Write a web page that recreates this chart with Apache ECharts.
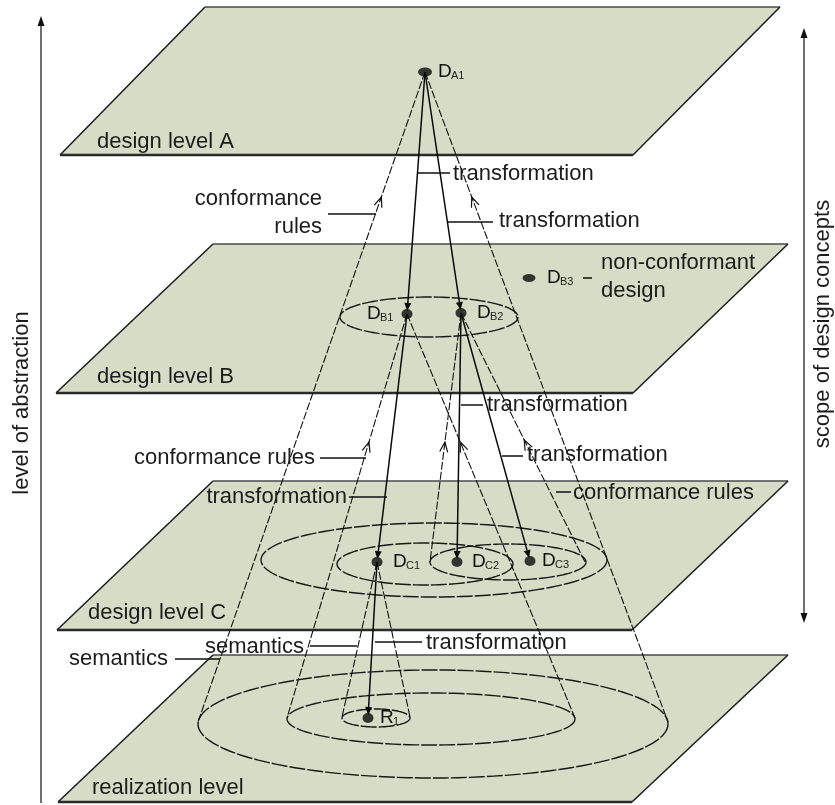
<!DOCTYPE html>
<html><head><meta charset="utf-8">
<script src="https://cdn.jsdelivr.net/npm/echarts@6/dist/echarts.min.js"></script>
<style>html,body{margin:0;padding:0;background:#fff}#c{width:835px;height:805px}</style>
</head><body><div id="c"></div>
<script>
// ---- planes (levels) ----
const planeNames = ['design level A', 'design level B', 'design level C', 'realization level'];
const planeTopY = [7, 244, 481, 655];
const planeBottomY = [155, 393, 630, 802];
const planeTopLeftX = [205, 213, 213, 213];
const planeTopRightX = [780, 788, 788, 788];
const planeBottomLeftX = [60, 56, 57, 58];
const planeBottomRightX = [633, 633, 632, 632];
const planeLabelX = [97, 97, 88, 92];
const planeLabelY = [142, 377, 613, 788];

// ---- designs (points) ----
const designMain = ['D', 'D', 'D', 'D', 'D', 'D', 'D', 'R'];
const designSub = ['A1', 'B1', 'B2', 'B3', 'C1', 'C2', 'C3', '1'];
const designX = [425, 407, 461, 529, 377, 457, 530, 368];
const designY = [72, 314, 313, 278, 562, 562, 561, 718];
const designLabelX = [438, 367, 477, 547, 393, 472, 542, 380];

// ---- scopes (ellipses) ----
const scopeCx = [429, 434, 425, 508, 433, 431, 376];
const scopeCy = [317, 560, 564, 562, 724, 719, 718];
const scopeRx = [89, 173, 88, 78, 235, 144, 34];
const scopeRy = [20, 37, 21, 18, 54, 26, 9];

// ---- cone edges (conformance) ----
const coneFrom = [0, 0, 1, 1, 2, 2, 4, 4];
const coneToX = [198, 668, 287, 575, 430, 585, 342, 410];
const coneToY = [722, 722, 718, 718, 562, 562, 717, 717];

// ---- transformations ----
const transFrom = [0, 0, 1, 2, 2, 4];
const transTo = [1, 2, 4, 5, 6, 7];

// ---- conformance arrowheads (cone index, height) ----
const confCone = [0, 1, 2, 3, 4, 5];
const confY = [197, 197, 442, 442, 442, 440];

// ---- annotations ----
const annText = ['transformation', 'transformation', 'conformance\nrules', 'non-conformant\ndesign',
  'transformation', 'conformance rules', 'transformation', 'conformance rules',
  'transformation', 'semantics', 'semantics', 'transformation'];
const annLeaderX1 = [418, 447, 328, 583, 461, 320, 502, 556, 349, 310, 175, 375];
const annLeaderX2 = [450, 493, 376, 592, 483, 366, 523, 571, 387, 357, 220, 422];
const annLeaderY = [173, 222, 214, 278, 405, 458, 456, 492, 497, 646, 659, 642];
const annTextX = [453, 499, 322, 601, 487, 315, 527, 573, 347, 304, 168, 426];
const annTextY = [174, 221, 213, 277, 405, 458, 455, 493, 497, 647, 659, 643];
const annAlign = ['left', 'left', 'right', 'left', 'left', 'right', 'left', 'left', 'right', 'right', 'right', 'left'];

// ---- side scales ----
const scaleText = ['level of abstraction', 'scope of design concepts'];
const scaleX = [41, 804];
const scaleTopY = [16, 28];
const scaleBottomY = [803, 623];
const scaleDouble = [false, true];
const scaleTextX = [22, 823];
const scaleTextY = [403, 324];

const FONT = '"Liberation Sans", Arial, Helvetica, sans-serif';
const INK = '#1c1c1c';

const chart = echarts.init(document.getElementById('c'), null, {renderer: 'canvas'});

function planeItem(params, api) {
  const i = params.dataIndex;
  const tl = api.coord([planeTopLeftX[i], planeTopY[i]]);
  const tr = api.coord([planeTopRightX[i], planeTopY[i]]);
  const br = api.coord([planeBottomRightX[i], planeBottomY[i]]);
  const bl = api.coord([planeBottomLeftX[i], planeBottomY[i]]);
  const lp = api.coord([planeLabelX[i], planeLabelY[i]]);
  return {type: 'group', children: [
    {type: 'polygon', shape: {points: [tl, tr, br, bl]}, style: {fill: '#d6dcc5'}},
    {type: 'line', shape: {x1: tl[0], y1: tl[1], x2: tr[0], y2: tr[1]}, style: {stroke: '#4a4a4a', lineWidth: 1.6}},
    {type: 'line', shape: {x1: tr[0], y1: tr[1], x2: br[0], y2: br[1]}, style: {stroke: '#1a1a1a', lineWidth: 1.5}},
    {type: 'line', shape: {x1: tl[0], y1: tl[1], x2: bl[0], y2: bl[1]}, style: {stroke: '#1a1a1a', lineWidth: 1.5}},
    {type: 'line', shape: {x1: bl[0], y1: bl[1], x2: br[0], y2: br[1]}, style: {stroke: '#2a2a2a', lineWidth: 2.6}},
    {type: 'text', x: lp[0], y: lp[1], style: {text: planeNames[i], fontSize: 22, fontFamily: FONT, fill: INK, align: 'left', verticalAlign: 'middle'}}
  ]};
}

function scopeItem(params, api) {
  const i = params.dataIndex;
  const c = api.coord([scopeCx[i], scopeCy[i]]);
  const e = api.coord([scopeCx[i] + scopeRx[i], scopeCy[i] + scopeRy[i]]);
  const rx = Math.abs(e[0] - c[0]), ry = Math.abs(e[1] - c[1]);
  const pts = [];
  for (let k = 0; k < 120; k++) {
    const a = k / 120 * Math.PI * 2;
    pts.push([c[0] + rx * Math.cos(a), c[1] + ry * Math.sin(a)]);
  }
  return {type: 'polygon', shape: {points: pts}, style: {fill: 'none', stroke: '#181818', lineWidth: 1.4, lineDash: [16, 2]}};
}

function coneItem(params, api) {
  const i = params.dataIndex;
  const f = coneFrom[i];
  const p0 = api.coord([designX[f], designY[f]]);
  const p1 = api.coord([coneToX[i], coneToY[i]]);
  return {type: 'line', shape: {x1: p0[0], y1: p0[1], x2: p1[0], y2: p1[1]},
    style: {stroke: '#111', lineWidth: 1.1, lineDash: [8, 2]}};
}

function transItem(params, api) {
  const i = params.dataIndex;
  const a = transFrom[i], b = transTo[i];
  const p0 = api.coord([designX[a], designY[a]]);
  const p1 = api.coord([designX[b], designY[b]]);
  const dx = p1[0] - p0[0], dy = p1[1] - p0[1], L = Math.hypot(dx, dy);
  const ux = dx / L, uy = dy / L;
  const tip = [p1[0] - ux * 3, p1[1] - uy * 3];
  const base = [tip[0] - ux * 8, tip[1] - uy * 8];
  return {type: 'group', children: [
    {type: 'line', shape: {x1: p0[0], y1: p0[1], x2: base[0], y2: base[1]}, style: {stroke: '#0a0a0a', lineWidth: 1.5}},
    {type: 'polygon', shape: {points: [tip, [base[0] - uy * 3.5, base[1] + ux * 3.5], [base[0] + uy * 3.5, base[1] - ux * 3.5]]}, style: {fill: '#0a0a0a'}}
  ]};
}

function confItem(params, api) {
  const i = params.dataIndex;
  const c = confCone[i], f = coneFrom[c];
  const ax = designX[f], ay = designY[f], bx = coneToX[c], by = coneToY[c];
  const t = (confY[i] - ay) / (by - ay);
  const P = api.coord([ax + (bx - ax) * t, confY[i]]);
  const A = api.coord([ax, ay]);
  const dx = A[0] - P[0], dy = A[1] - P[1], L = Math.hypot(dx, dy);
  const ux = dx / L, uy = dy / L;
  const b = [P[0] - ux * 10, P[1] - uy * 10];
  return {type: 'polyline', shape: {points: [[b[0] - uy * 4, b[1] + ux * 4], P, [b[0] + uy * 4, b[1] - ux * 4]]},
    style: {fill: 'none', stroke: '#111', lineWidth: 1.2}};
}

function labelItem(params, api) {
  const i = params.dataIndex;
  const p = api.coord([designLabelX[i], designY[i]]);
  return {type: 'group', children: [
    {type: 'text', x: p[0], y: p[1], style: {text: designMain[i], fontSize: 19, fontFamily: FONT, fill: '#111', align: 'left', verticalAlign: 'middle'}},
    {type: 'text', x: p[0] + 13, y: p[1] + 4, style: {text: designSub[i], fontSize: 11, fontFamily: FONT, fill: '#222', align: 'left', verticalAlign: 'middle'}}
  ]};
}

function annItem(params, api) {
  const i = params.dataIndex;
  const l1 = api.coord([annLeaderX1[i], annLeaderY[i]]);
  const l2 = api.coord([annLeaderX2[i], annLeaderY[i]]);
  const tp = api.coord([annTextX[i], annTextY[i]]);
  return {type: 'group', children: [
    {type: 'line', shape: {x1: l1[0], y1: l1[1], x2: l2[0], y2: l2[1]}, style: {stroke: '#111', lineWidth: 1.5}},
    {type: 'text', x: tp[0], y: tp[1], style: {text: annText[i], fontSize: 22, lineHeight: 27.5, fontFamily: FONT, fill: INK, align: annAlign[i], verticalAlign: 'middle'}}
  ]};
}

function scaleItem(params, api) {
  const i = params.dataIndex;
  const top = api.coord([scaleX[i], scaleTopY[i]]);
  const bot = api.coord([scaleX[i], scaleBottomY[i]]);
  const tp = api.coord([scaleTextX[i], scaleTextY[i]]);
  const ch = [
    {type: 'line', shape: {x1: top[0], y1: top[1] + 6, x2: bot[0], y2: scaleDouble[i] ? bot[1] - 6 : bot[1]}, style: {stroke: '#222', lineWidth: 1.3}},
    {type: 'polygon', shape: {points: [[top[0], top[1]], [top[0] - 3.5, top[1] + 10], [top[0] + 3.5, top[1] + 10]]}, style: {fill: '#111'}},
    {type: 'text', x: tp[0], y: tp[1], rotation: Math.PI / 2, style: {text: scaleText[i], fontSize: 22, fontFamily: FONT, fill: INK, align: 'center', verticalAlign: 'middle'}}
  ];
  if (scaleDouble[i]) {
    ch.push({type: 'polygon', shape: {points: [[bot[0], bot[1]], [bot[0] - 3.5, bot[1] - 10], [bot[0] + 3.5, bot[1] - 10]]}, style: {fill: '#111'}});
  }
  return {type: 'group', children: ch};
}

const idx = n => Array.from({length: n}, (_, k) => [k, k]);

chart.setOption({
  animation: false,
  backgroundColor: '#fff',
  grid: {left: 0, right: 0, top: 0, bottom: 0},
  xAxis: {type: 'value', min: 0, max: 835, show: false},
  yAxis: {type: 'value', min: 0, max: 805, inverse: true, show: false},
  series: [
    {type: 'custom', renderItem: planeItem, data: idx(planeNames.length), clip: false, silent: true, z: 1},
    {type: 'custom', renderItem: scopeItem, data: idx(scopeCx.length), clip: false, silent: true, z: 2},
    {type: 'custom', renderItem: coneItem, data: idx(coneFrom.length), clip: false, silent: true, z: 3},
    {type: 'custom', renderItem: transItem, data: idx(transFrom.length), clip: false, silent: true, z: 4},
    {type: 'custom', renderItem: confItem, data: idx(confCone.length), clip: false, silent: true, z: 4},
    {type: 'scatter', data: designX.map((x, i) => [x, designY[i]]), symbol: 'circle',
      symbolSize: (v, p) => p.dataIndex === 0 ? [14, 9] : (p.dataIndex === 3 ? [13, 8] : [11, 10]),
      itemStyle: {color: '#0a0a0a'}, silent: true, z: 5},
    {type: 'custom', renderItem: labelItem, data: idx(designX.length), clip: false, silent: true, z: 6},
    {type: 'custom', renderItem: annItem, data: idx(annText.length), clip: false, silent: true, z: 6},
    {type: 'custom', renderItem: scaleItem, data: idx(scaleText.length), clip: false, silent: true, z: 6}
  ]
});
</script>
</body></html>
